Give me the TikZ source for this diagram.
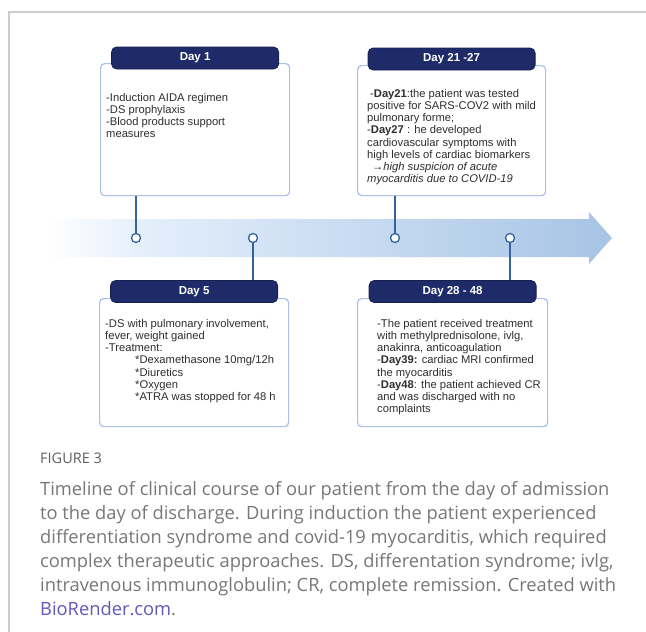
\documentclass[tikz,border=0pt]{standalone}
\usepackage{fontspec}
\setmainfont{Liberation Sans}
\newfontfamily\capfont{Open Sans}
\usetikzlibrary{positioning}

\definecolor{navy}{HTML}{1F2B69}
\definecolor{boxline}{HTML}{A9C0E7}
\definecolor{stemblue}{HTML}{35639C}
\definecolor{bandA}{HTML}{E3EEFB}
\definecolor{bandB}{HTML}{A7C4E5}
\definecolor{bodytext}{HTML}{2E2E2E}
\definecolor{captext}{HTML}{777777}
\definecolor{figgrey}{HTML}{5F5F5F}
\definecolor{linkcol}{HTML}{6258B8}
\definecolor{framecol}{HTML}{CCCCCC}

\pgfdeclarehorizontalshading{timeband}{100bp}{color(0bp)=(white); color(25bp)=(white); color(34bp)=(bandA); color(75bp)=(bandB); color(100bp)=(bandB)}

\begin{document}
\begin{tikzpicture}[x=1pt,y=-1pt,
	bodybox/.style={draw=boxline, line width=1.2pt, fill=white, rounded corners=4pt, anchor=north west, inner sep=0pt},
	headbox/.style={draw=navy!75!black, line width=.8pt, fill=navy, rounded corners=5pt, minimum width=167pt, minimum height=22pt, inner sep=0pt, text=white, font=\bfseries\fontsize{11.5}{14}\selectfont},
	notes/.style={anchor=north west, inner sep=0pt, align=left, text=bodytext, font=\fontsize{11.2}{12.2}\selectfont},
	dot/.style={circle, draw=stemblue, line width=1.3pt, fill=white, minimum size=9pt, inner sep=0pt},
	stick/.style={draw=stemblue, line width=1.5pt}]

	\useasboundingbox (0,0) rectangle (646,632);
	\fill[white] (0,0) rectangle (646,632);

	% frame
	\draw[framecol, line width=1.5pt] (9,632) -- (9,12) -- (646,12);

	% time arrow
	\shade[shading=timeband] (45,219) -- (589,219) -- (589,212) -- (612,238) -- (589,264) -- (589,257) -- (45,257) -- cycle;
	\foreach \x/\n in {136/c1,253/c5,395/c21,510/c28}{
		\node[dot] (\n) at (\x,238) {};
	}

	% Day 1
	\node[bodybox, minimum width=189pt, minimum height=132pt] (day1box) at (100,63) {};
	\node[headbox] (day1head) at ([yshift=5pt]day1box.north) {Day 1};
	\node[notes, below right=30pt and 6pt of day1box.north west] (day1text) {-Induction AIDA regimen\\-DS prophylaxis\\-Blood products support\\measures};
	\draw[stick] (c1 |- day1box.south) -- (c1);

	% Day 21 - 27
	\node[bodybox, minimum width=188pt, minimum height=130pt] (day21box) at (357,65) {};
	\node[headbox] (day21head) at ([yshift=6pt]day21box.north) {Day 21 -27};
	\node[notes, below right=24pt and 10pt of day21box.north west] (day21text) {\hspace{3pt}-\textbf{Day21}:the patient was tested\\positive for SARS-COV2 with mild\\pulmonary forme;\\-\textbf{Day27} : he developed\\cardiovascular symptoms with\\high levels of cardiac biomarkers\\\hspace{5pt}\textit{→high suspicion of acute}\\\textit{myocarditis due to COVID-19}};
	\draw[stick] (c21 |- day21box.south) -- (c21);

	% Day 5
	\node[bodybox, minimum width=189pt, minimum height=128pt] (day5box) at (99,298) {};
	\node[headbox] (day5head) at ([yshift=6.5pt]day5box.north) {Day 5};
	\node[notes, below right=21pt and 6pt of day5box.north west] (day5text) {-DS with pulmonary involvement,\\fever, weight gained\\-Treatment:\\\hspace{30pt}*Dexamethasone 10mg/12h\\\hspace{30pt}*Diuretics\\\hspace{30pt}*Oxygen\\\hspace{30pt}*ATRA was stopped for 48 h};
	\draw[stick] (c5) -- (c5 |- day5head.north);

	% Day 28 - 48
	\node[bodybox, minimum width=190pt, minimum height=128pt] (day28box) at (357,298) {};
	\node[headbox] (day28head) at ([yshift=6.5pt]day28box.north) {Day 28 - 48};
	\node[notes, below right=21pt and 20pt of day28box.north west] (day28text) {-The patient received treatment\\with methylprednisolone, ivlg,\\anakinra, anticoagulation\\-\textbf{Day39:} cardiac MRI confirmed\\the myocarditis\\-\textbf{Day48}: the patient achieved CR\\and was discharged with no\\complaints};
	\draw[stick] (c28) -- (c28 |- day28head.north);

	% caption
	\node[anchor=base west, inner sep=0pt, text=figgrey, font=\capfont\fontsize{14.5}{16}\selectfont] (figlabel) at (40,463) {FIGURE 3};
	\node[anchor=north west, inner sep=0pt, align=left, text=captext, font=\capfont\fontsize{18.3}{24}\selectfont] (caption) at (40,481) {Timeline of clinical course of our patient from the day of admission\\to the day of discharge. During induction the patient experienced\\differentiation syndrome and covid-19 myocarditis, which required\\complex therapeutic approaches. DS, differentation syndrome; ivlg,\\intravenous immunoglobulin; CR, complete remission. Created with\\\textcolor{linkcol}{BioRender.com}.};

\end{tikzpicture}
\end{document}
